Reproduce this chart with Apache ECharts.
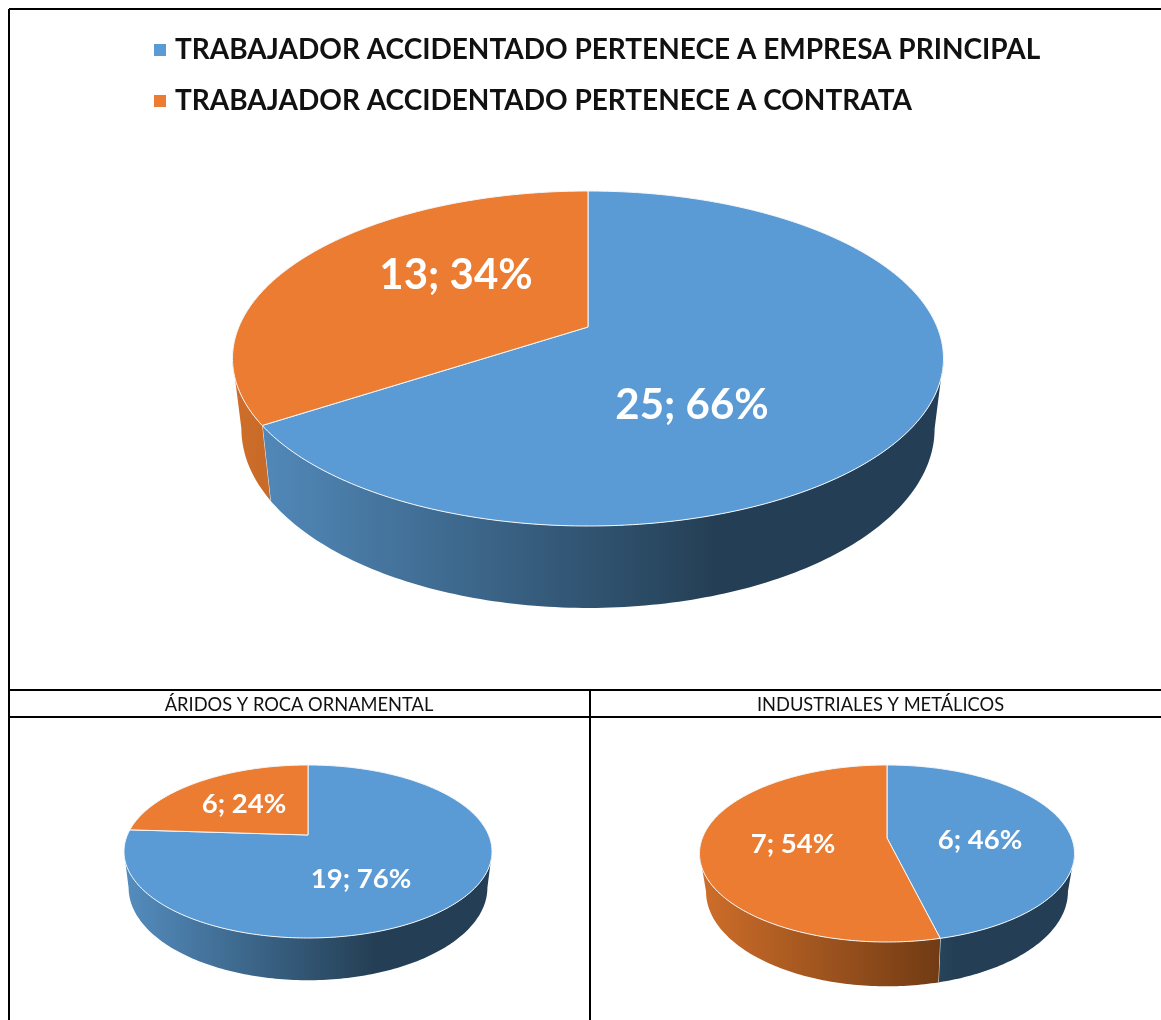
<!DOCTYPE html>
<html>
<head>
<meta charset="utf-8">
<title>Trabajador accidentado</title>
<style>
html, body { margin: 0; padding: 0; background: #fff; }
#main { width: 1161px; height: 1020px; }
</style>
<script src="https://cdn.jsdelivr.net/npm/echarts@6/dist/echarts.min.js"></script>
</head>
<body>
<div id="main"></div>
<script>
'use strict';
var categories = ['TRABAJADOR ACCIDENTADO PERTENECE A EMPRESA PRINCIPAL', 'TRABAJADOR ACCIDENTADO PERTENECE A CONTRATA'];
var principalValues = [25, 19, 6];
var contrataValues = [13, 6, 7];
var seriesValues = [principalValues, contrataValues];
var panelTitles = ['ÁRIDOS Y ROCA ORNAMENTAL', 'INDUSTRIALES Y METÁLICOS'];

// where each pie sits on the page (apex = point where the slices meet, the view is in perspective)
var panels = [
    { ax: 588, ay: 327, top: 191, bottom: 526, halfW: 355.5, wallBase: 68, wallScale: 0.975, font: 42, labels: [[692, 405], [456, 275]] },
    { ax: 308, ay: 835, top: 765, bottom: 938, halfW: 184, wallBase: 35, wallScale: 0.975, font: 27.5, labels: [[361, 879], [244, 804]] },
    { ax: 887, ay: 838, top: 765, bottom: 942, halfW: 187.5, wallBase: 37, wallScale: 0.965, font: 27.5, labels: [[980, 840], [793, 844]] }
];
var topColors = ['#5b9bd5', '#eb7c31'];
var wallColors = [['#548dbf', '#243f55'], ['#cf6e2a', '#6b3812']];

panels.forEach(function (p) {
    var up = p.ay - p.top, down = p.bottom - p.ay;
    p.k = (down - up) / (down + up);
    p.B = up * (1 + p.k);
    p.A = p.halfW * Math.sqrt(1 - p.k * p.k);
});

// circle angle (clockwise from the top) -> page position on the tilted disc
function rimPoint(p, angle) {
    var u = Math.sin(angle), v = -Math.cos(angle), w = 1 - p.k * v;
    return [p.ax + p.A * u / w, p.ay + p.B * v / w];
}
function wallPoint(p, pt) {
    return [p.ax + (pt[0] - p.ax) * p.wallScale, pt[1] + p.wallBase + 0.07 * (pt[1] - p.ay)];
}
function arc(p, a0, a1) {
    var pts = [], n = Math.max(2, Math.ceil((a1 - a0) * 60));
    for (var i = 0; i <= n; i++) {
        pts.push(rimPoint(p, a0 + (a1 - a0) * i / n));
    }
    return pts;
}

function renderSlice(params, api) {
    var s = params.seriesIndex, idx = params.dataIndex, p = panels[idx];
    var total = principalValues[idx] + contrataValues[idx];
    var before = s === 0 ? 0 : principalValues[idx];
    var value = api.value(0);
    var a0 = echarts.number.linearMap(before, [0, total], [0, Math.PI * 2]);
    var a1 = echarts.number.linearMap(before + value, [0, total], [0, Math.PI * 2]);
    var children = [];

    // side wall: only the part of the rim facing the viewer
    var front0 = Math.acos(-p.k), front1 = Math.PI * 2 - front0;
    var w0 = Math.max(a0, front0), w1 = Math.min(a1, front1);
    if (w1 > w0) {
        var rim = arc(p, w0, w1);
        var under = rim.map(function (pt) { return wallPoint(p, pt); }).reverse();
        var left = p.ax - p.halfW;
        children.push({
            type: 'polygon',
            shape: { points: rim.concat(under) },
            style: {
                fill: new echarts.graphic.LinearGradient(left, 0, left + p.halfW * 2 * 0.68, 0, [
                    { offset: 0, color: wallColors[s][0] },
                    { offset: 1, color: wallColors[s][1] }
                ], true)
            }
        });
        if (a1 < front1) {
            children.push({
                type: 'line',
                shape: { x1: rim[rim.length - 1][0], y1: rim[rim.length - 1][1], x2: under[0][0], y2: under[0][1] },
                style: { stroke: '#f2f2f2', lineWidth: 1 }
            });
        }
    }

    // top face
    children.push({
        type: 'polygon',
        shape: { points: [[p.ax, p.ay]].concat(arc(p, a0, a1)) },
        style: { fill: api.visual('color'), stroke: '#f4f7fa', lineWidth: 1, lineJoin: 'round' }
    });

    children.push({
        type: 'text',
        z2: 10,
        style: {
            x: p.labels[s][0],
            y: p.labels[s][1],
            text: value + '; ' + Math.round(value / total * 100) + '%',
            align: 'center',
            verticalAlign: 'middle',
            fill: '#fff',
            font: 'bold ' + p.font + 'px Lato'
        }
    });
    return { type: 'group', children: children };
}

function tableLine(x1, y1, x2, y2) {
    return { type: 'line', silent: true, shape: { x1: x1, y1: y1, x2: x2, y2: y2 }, style: { stroke: '#000', lineWidth: 2 } };
}

var titleText = { fontFamily: 'Lato', fontWeight: 'normal', fontSize: 18.3, color: '#111' };

var option = {
    animation: false,
    backgroundColor: '#fff',
    title: [
        { text: panelTitles[0], left: 294, top: 691, textAlign: 'center', textStyle: titleText },
        { text: panelTitles[1], left: 875.5, top: 691, textAlign: 'center', textStyle: titleText }
    ],
    legend: {
        orient: 'vertical',
        left: 149,
        top: 31,
        itemWidth: 12,
        itemHeight: 12,
        itemGap: 23,
        icon: 'rect',
        selectedMode: false,
        data: categories,
        textStyle: { fontFamily: 'Lato', fontWeight: 'bold', fontSize: 28, color: '#111', padding: [0, 0, 0, 4] }
    },
    graphic: [
        tableLine(9, 9, 1161, 9),
        tableLine(9, 9, 9, 1020),
        tableLine(9, 690, 1161, 690),
        tableLine(9, 717, 1161, 717),
        tableLine(590, 690, 590, 1020)
    ],
    series: categories.map(function (name, i) {
        return {
            name: name,
            type: 'custom',
            coordinateSystem: 'none',
            itemStyle: { color: topColors[i] },
            renderItem: renderSlice,
            data: seriesValues[i]
        };
    })
};

var chart = echarts.init(document.getElementById('main'));
chart.setOption(option);
</script>
</body>
</html>
